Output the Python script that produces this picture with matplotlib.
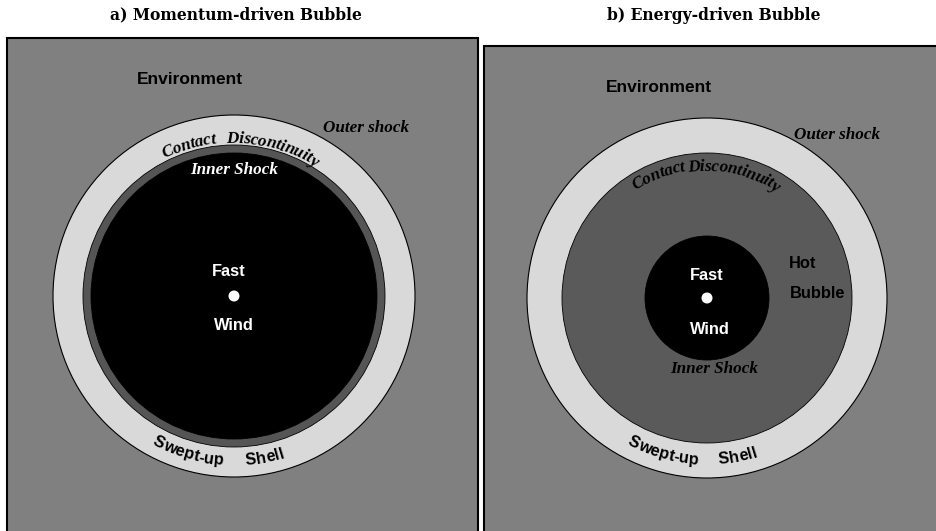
import numpy as np
import matplotlib
matplotlib.use("Agg")
import matplotlib.pyplot as plt
from matplotlib.patches import Circle, Rectangle

#-----------------------------------------------------------
# panel layout (pixel units, y down)
panel_titles = ["a) Momentum-driven Bubble", "b) Energy-driven Bubble"]
title_x = [236, 714]
panel_boxes = [(7, 38, 471, 520), (484, 46, 470, 520)]
centers = [(234, 296), (707, 298)]

# radii of the rings: outer shock, contact discontinuity, inner shock
r_outer = [181, 180]
r_contact = [151, 145]
r_inner = [143, 62]

c_env = "#808080"
c_shell = "#d9d9d9"
c_hot = "#5a5a5a"
c_ring = "#555555"
c_wind = "#000000"

# straight labels: (text, x, y, colour, style)
labels_a = [("Environment", 190, 80, "k", "env"),
            ("Outer shock", 366, 128, "k", "serif"),
            ("Inner Shock", 234, 170, "w", "serif"),
            ("Fast", 229, 272, "w", "sans"),
            ("Wind", 234, 325, "w", "sans")]
labels_b = [("Environment", 659, 87, "k", "env"),
            ("Outer shock", 837, 135, "k", "serif"),
            ("Hot", 803, 264, "k", "sans"),
            ("Bubble", 818, 293, "k", "sans"),
            ("Fast", 707, 276, "w", "sans"),
            ("Wind", 710, 329, "w", "sans"),
            ("Inner Shock", 714, 369, "k", "serif")]

# curved labels: (word, radius, offset along arc in px, top/bottom, style)
curved_a = [("Contact", 158, -46, "top", "serif"),
            ("Discontinuity", 157, 40, "top", "serif"),
            ("Swept-up", 165, -47, "bottom", "sans"),
            ("Shell", 165, 31, "bottom", "sans")]
curved_b = [("Contact", 133, -50, "top", "serif"),
            ("Discontinuity", 131, 28, "top", "serif"),
            ("Swept-up", 162, -45, "bottom", "sans"),
            ("Shell", 162, 31, "bottom", "sans")]

fonts = {"sans": dict(family="Liberation Sans", weight="bold", size=11.8),
         "env": dict(family="Liberation Sans", weight="bold", size=12.5),
         "serif": dict(family="Liberation Serif", weight="bold", style="italic", size=12.3)}

#-----------------------------------------------------------
fig = plt.figure(figsize=(9.37, 5.31), dpi=100)
ax = fig.add_axes([0, 0, 1, 1])
ax.set_xlim(0, 937)
ax.set_ylim(531, 0)
ax.axis("off")
renderer = fig.canvas.get_renderer()


def text_width(s, font):
  t = ax.text(0, 0, s, **font)
  w = t.get_window_extent(renderer).width
  t.remove()
  return w


def curved_word(word, cx, cy, r, offset, side, font, color="k"):
  widths = [0] + [text_width(word[:k + 1], font) for k in range(len(word))]
  W = widths[-1]
  for i, ch in enumerate(word):
    s = offset + (widths[i] + widths[i + 1]) / 2 - W / 2
    phi = s / r
    if side == "top":
      x = cx + r * np.sin(phi)
      y = cy - r * np.cos(phi)
      rot = -np.degrees(phi)
    else:
      x = cx + r * np.sin(phi)
      y = cy + r * np.cos(phi)
      rot = np.degrees(phi)
    ax.text(x, y, ch, color=color, ha="center", va="center",
            rotation=rot, rotation_mode="anchor", **font)


# panel a
x0, y0, w, h = panel_boxes[0]
ax.add_patch(Rectangle((x0, y0), w, h, fc=c_env, ec="k", lw=1.5))
cx, cy = centers[0]
ax.add_patch(Circle((cx, cy), r_outer[0], fc=c_shell, ec="k", lw=0.8))
ax.add_patch(Circle((cx, cy), r_contact[0], fc=c_ring, ec="k", lw=0.6))
ax.add_patch(Circle((cx, cy), r_inner[0], fc=c_wind, ec="k", lw=0.6))
ax.add_patch(Circle((cx, cy), 5.5, fc="white", ec="none"))

# panel b
x0, y0, w, h = panel_boxes[1]
ax.add_patch(Rectangle((x0, y0), w, h, fc=c_env, ec="k", lw=1.5))
cx, cy = centers[1]
ax.add_patch(Circle((cx, cy), r_outer[1], fc=c_shell, ec="k", lw=0.8))
ax.add_patch(Circle((cx, cy), r_contact[1], fc=c_hot, ec="k", lw=0.6))
ax.add_patch(Circle((cx, cy), r_inner[1], fc=c_wind, ec="k", lw=0.6))
ax.add_patch(Circle((cx, cy), 5.5, fc="white", ec="none"))

# titles
for title, tx in zip(panel_titles, title_x):
  ax.text(tx, 15, title, ha="center", va="center",
          family="DejaVu Serif", weight="bold", size=11.2)

# labels
for labels in [labels_a, labels_b]:
  for s, x, y, col, st in labels:
    ax.text(x, y, s, color=col, ha="center", va="center", **fonts[st])

for curved, (cx, cy) in zip([curved_a, curved_b], centers):
  for word, r, off, side, st in curved:
    curved_word(word, cx, cy, r, off, side, fonts[st])

fig.savefig("out.png", dpi=100)
